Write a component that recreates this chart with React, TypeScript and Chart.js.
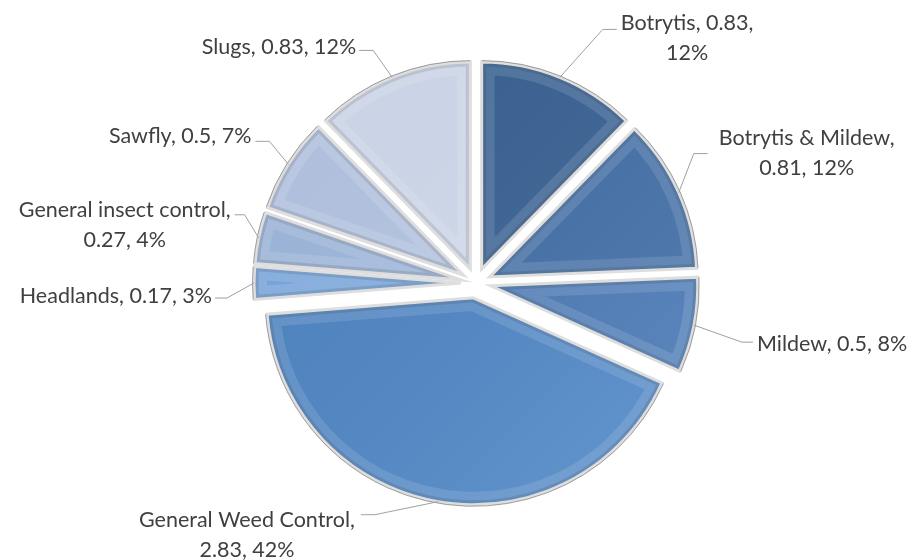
import React, { useEffect, useRef } from "react";
import { Chart, registerables } from "chart.js";

Chart.register(...registerables);

// ---- data ----
const categories = [
  "Botrytis",
  "Botrytis & Mildew",
  "Mildew",
  "General Weed Control",
  "Headlands",
  "General insect control",
  "Sawfly",
  "Slugs",
];
const values = [0.83, 0.81, 0.5, 2.83, 0.17, 0.27, 0.5, 0.83];
const percentLabels = ["12%", "12%", "8%", "42%", "3%", "4%", "7%", "12%"];

// ---- style ----
const sliceColors = [
  "#3A6497",
  "#4371AA",
  "#4A7BB8",
  "#5088C8",
  "#7CABE4",
  "#A2BCE2",
  "#B9CAE8",
  "#D5DFF2",
];
const EXPLODE = 15;
const RADIUS = 207;
const FONT = "21.5px Lato";
const LINE_H = 30;
const TEXT_COLOR = "#404040";
const LEADER_COLOR = "#a0a0a0";

// label layout: elbow offset from slice edge point, horizontal leader, text offset
// wrap: 0 = single line, 1 = break after category, 2 = break after value
const labelLayout = [
  { ex: 43, ey: -48, hx: 14, gap: 4, ty: -6, wrap: 2 },
  { ex: 15, ey: -39, hx: 14, gap: 11, ty: -16, wrap: 1 },
  { ex: 48, ey: 17, hx: 11, gap: 4, ty: 2, wrap: 0 },
  { ex: -63, ey: 13, hx: -14, gap: 6, ty: 5, wrap: 1 },
  { ex: -27, ey: 15, hx: -12, gap: 3, ty: -2, wrap: 0 },
  { ex: -14, ey: -23, hx: -10, gap: 4, ty: -5, wrap: 1 },
  { ex: -19, ey: -23, hx: -14, gap: 4, ty: -5, wrap: 0 },
  { ex: -19, ey: -27, hx: -14, gap: 3, ty: -3, wrap: 0 },
];

function labelLines(i: number): string[] {
  const c = categories[i];
  const v = String(values[i]);
  const p = percentLabels[i];
  const w = labelLayout[i].wrap;
  if (w === 1) return [c + ",", v + ", " + p];
  if (w === 2) return [c + ", " + v + ",", p];
  return [c + ", " + v + ", " + p];
}

function slicePath(ctx: CanvasRenderingContext2D, x: number, y: number, r: number, s: number, e: number) {
  ctx.beginPath();
  ctx.moveTo(x, y);
  ctx.arc(x, y, r, s, e);
  ctx.closePath();
}

const explodedPiePlugin = {
  id: "explodedPie",
  beforeDatasetDraw(chart: any, args: any) {
    const meta = chart.getDatasetMeta(args.index);
    const ctx: CanvasRenderingContext2D = chart.ctx;
    meta.data.forEach((arc: any) => {
      const { x, y, startAngle, endAngle, outerRadius } = arc;
      const mid = (startAngle + endAngle) / 2;
      ctx.save();
      ctx.translate(Math.cos(mid) * EXPLODE, Math.sin(mid) * EXPLODE);
      arc.draw(ctx);
      // bevel-like shading
      ctx.save();
      slicePath(ctx, x, y, outerRadius, startAngle, endAngle);
      ctx.clip();
      const g = ctx.createLinearGradient(x - outerRadius, y - outerRadius, x + outerRadius, y + outerRadius);
      g.addColorStop(0, "rgba(0,0,0,0.05)");
      g.addColorStop(1, "rgba(255,255,255,0.12)");
      ctx.fillStyle = g;
      ctx.fill();
      slicePath(ctx, x, y, outerRadius, startAngle, endAngle);
      ctx.lineJoin = "miter";
      ctx.lineWidth = 26;
      ctx.strokeStyle = "rgba(255,255,255,0.12)";
      ctx.stroke();
      ctx.lineWidth = 9;
      ctx.strokeStyle = "rgba(0,0,0,0.10)";
      ctx.stroke();
      ctx.restore();
      // rim
      slicePath(ctx, x, y, outerRadius, startAngle, endAngle);
      ctx.lineWidth = 3;
      ctx.strokeStyle = "#dedede";
      ctx.stroke();
      ctx.beginPath();
      ctx.arc(x, y, outerRadius + 1.5, startAngle, endAngle);
      ctx.lineWidth = 1;
      ctx.strokeStyle = "rgba(90,90,90,0.55)";
      ctx.stroke();
      ctx.restore();
    });
    return false;
  },
  afterDatasetsDraw(chart: any) {
    const meta = chart.getDatasetMeta(0);
    const ctx: CanvasRenderingContext2D = chart.ctx;
    ctx.save();
    ctx.font = FONT;
    meta.data.forEach((arc: any, i: number) => {
      const mid = (arc.startAngle + arc.endAngle) / 2;
      const px = arc.x + Math.cos(mid) * (EXPLODE + arc.outerRadius);
      const py = arc.y + Math.sin(mid) * (EXPLODE + arc.outerRadius);
      const L = labelLayout[i];
      const ex = px + L.ex;
      const ey = py + L.ey;
      const hx = ex + L.hx;
      ctx.strokeStyle = LEADER_COLOR;
      ctx.lineWidth = 1;
      ctx.beginPath();
      ctx.moveTo(px, py);
      ctx.lineTo(ex, ey);
      ctx.lineTo(hx, ey);
      ctx.stroke();
      const lines = labelLines(i);
      const bw = Math.max(...lines.map((t) => ctx.measureText(t).width));
      const left = L.hx > 0 ? hx + L.gap : hx - L.gap - bw;
      ctx.fillStyle = TEXT_COLOR;
      ctx.textAlign = "center";
      ctx.textBaseline = "middle";
      lines.forEach((t, k) => ctx.fillText(t, left + bw / 2, ey + L.ty + k * LINE_H));
    });
    ctx.restore();
  },
};

export default function App() {
  const canvasRef = useRef<HTMLCanvasElement | null>(null);

  useEffect(() => {
    if (!canvasRef.current) return;
    const chart = new Chart(canvasRef.current, {
      type: "pie",
      data: {
        labels: categories,
        datasets: [
          {
            data: values,
            backgroundColor: sliceColors,
            borderColor: "#dedede",
            borderWidth: 0,
          },
        ],
      },
      options: {
        responsive: false,
        animation: false,
        devicePixelRatio: 1,
        radius: RADIUS,
        layout: { padding: { left: 246, right: 206, top: 53, bottom: 47 } },
        plugins: {
          legend: { display: false },
          tooltip: { enabled: false },
        },
      } as any,
      plugins: [explodedPiePlugin as any],
    });
    return () => chart.destroy();
  }, []);

  return (
    <div style={{ position: "absolute", left: 0, top: 0, width: 912, height: 560, background: "#ffffff" }}>
      <canvas ref={canvasRef} width={912} height={560} style={{ display: "block" }} />
    </div>
  );
}
